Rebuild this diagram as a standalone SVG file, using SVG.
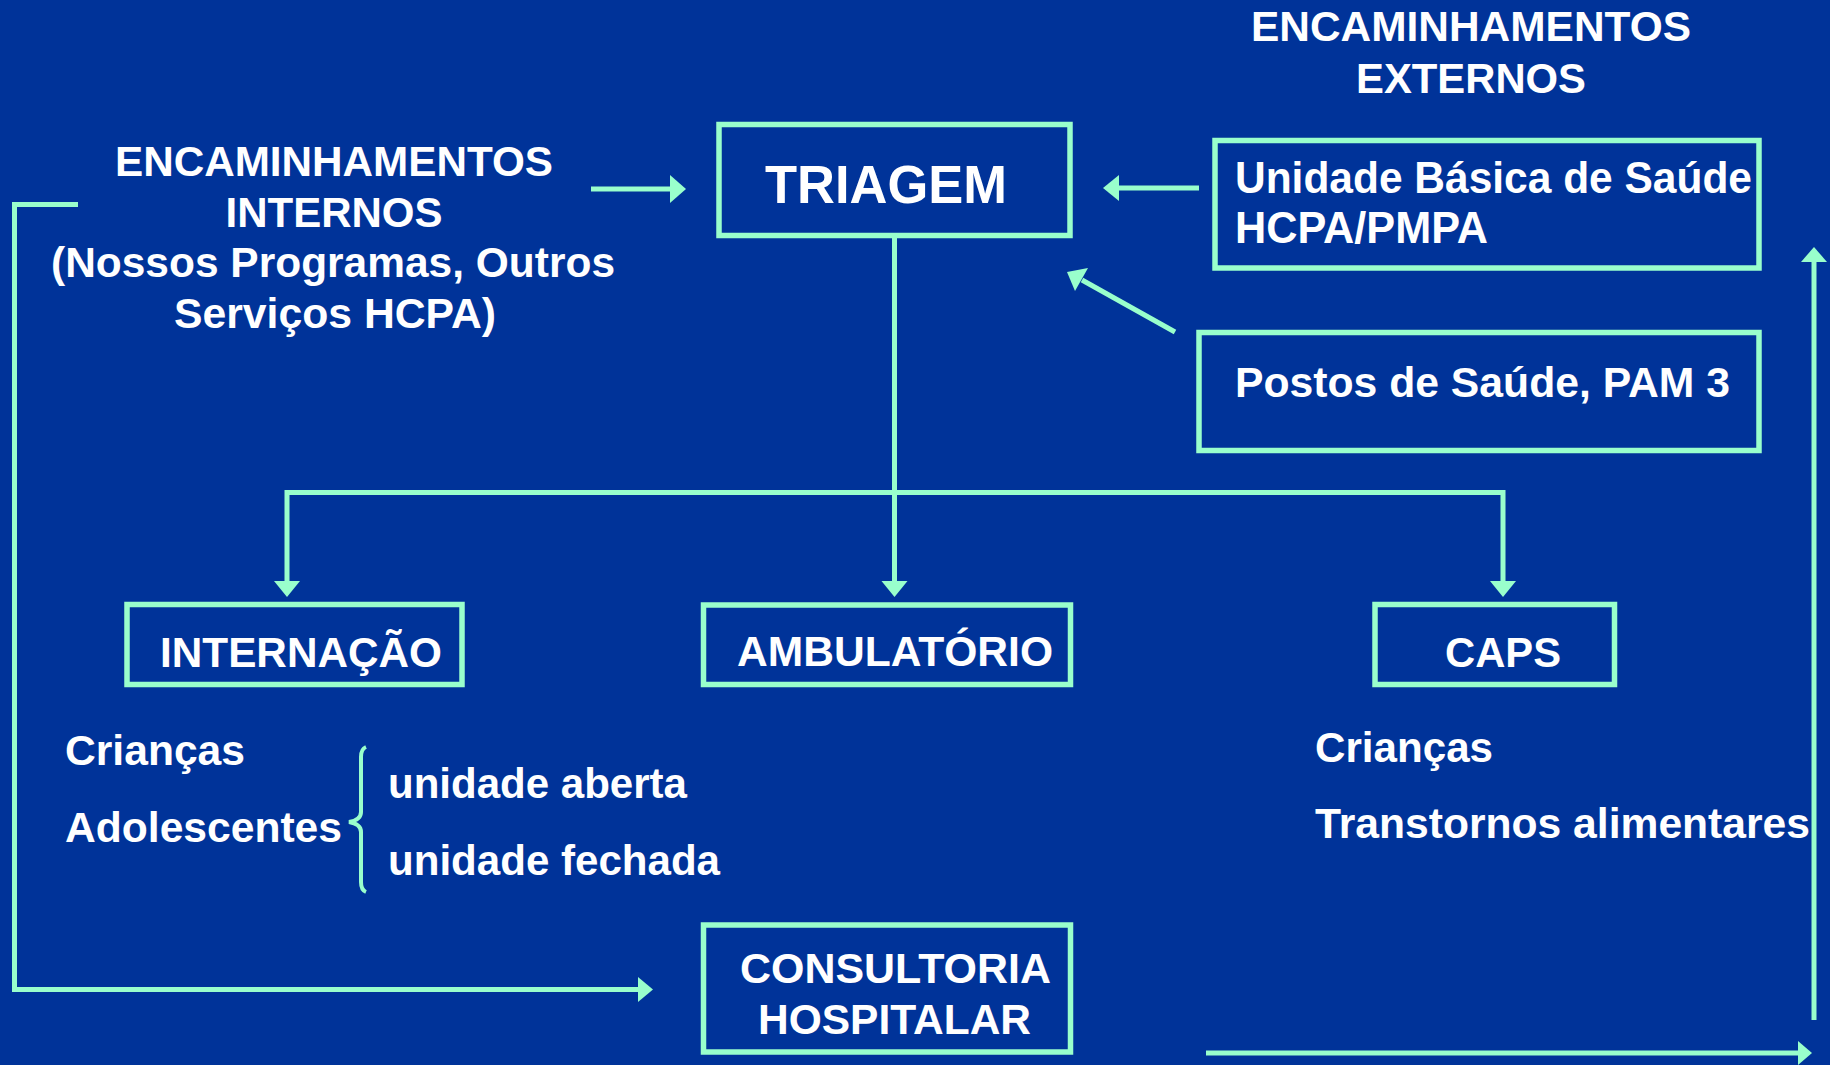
<svg xmlns="http://www.w3.org/2000/svg" width="1830" height="1065" viewBox="0 0 1830 1065">
<style>
.box{fill:none;stroke:#99FFCC;stroke-width:5.5}
.ln{fill:none;stroke:#99FFCC;stroke-width:5;stroke-linecap:butt;stroke-linejoin:miter}
.hd{fill:#99FFCC;stroke:none}
.t{font-family:"Liberation Sans",Arial,Helvetica,sans-serif;font-weight:bold;fill:#FFFFFF}
.n{font-size:42px}
</style>
<rect x="0" y="0" width="1830" height="1065" fill="#003399"/>

<g id="connectors">
  <line class="ln" x1="591" y1="189" x2="672" y2="189"/>
  <polygon class="hd" points="670,175 686,189 670,203"/>
  <line class="ln" x1="1199" y1="188" x2="1117" y2="188"/>
  <polygon class="hd" points="1119,175 1103,188 1119,201"/>
  <line class="ln" x1="1175" y1="332" x2="1082" y2="280"/>
  <polygon class="hd" points="1067,272 1088,268 1075,291"/>
  <line class="ln" x1="894.5" y1="238" x2="894.5" y2="584"/>
  <polygon class="hd" points="881.5,581 894.5,597 907.5,581"/>
  <polyline class="ln" points="287,584 287,492.5 1503,492.5 1503,584"/>
  <polygon class="hd" points="274,581 287,597 300,581"/>
  <polygon class="hd" points="1490,581 1503,597 1516,581"/>
  <polyline class="ln" points="78,204.5 14.5,204.5 14.5,989.5 640,989.5"/>
  <polygon class="hd" points="638,977 653,989.5 638,1002"/>
  <line class="ln" x1="1814" y1="1020" x2="1814" y2="260"/>
  <polygon class="hd" points="1801,262 1814,247 1827,262"/>
  <line class="ln" x1="1206" y1="1053" x2="1800" y2="1053"/>
  <polygon class="hd" points="1798,1041 1812,1053 1798,1065"/>
</g>

<g id="internos">
  <text class="t n" x="334" y="176" text-anchor="middle" textLength="438" lengthAdjust="spacingAndGlyphs">ENCAMINHAMENTOS</text>
  <text class="t n" x="334" y="227" text-anchor="middle" textLength="217" lengthAdjust="spacingAndGlyphs">INTERNOS</text>
  <text class="t n" x="333" y="277" text-anchor="middle" textLength="564" lengthAdjust="spacingAndGlyphs">(Nossos Programas, Outros</text>
  <text class="t n" x="335" y="328" text-anchor="middle" textLength="322" lengthAdjust="spacingAndGlyphs">Serviços HCPA)</text>
</g>

<g id="externos">
  <text class="t n" x="1471" y="41" text-anchor="middle" textLength="440" lengthAdjust="spacingAndGlyphs">ENCAMINHAMENTOS</text>
  <text class="t n" x="1471" y="93" text-anchor="middle" textLength="230" lengthAdjust="spacingAndGlyphs">EXTERNOS</text>
</g>

<g id="triagem">
  <rect class="box" x="719" y="124.5" width="351" height="111"/>
  <text class="t" x="765" y="203" font-size="54" textLength="242" lengthAdjust="spacingAndGlyphs">TRIAGEM</text>
</g>

<g id="unidade-basica">
  <rect class="box" x="1215" y="140.5" width="544" height="127.5"/>
  <text class="t" x="1235" y="193" font-size="44" textLength="517" lengthAdjust="spacingAndGlyphs">Unidade Básica de Saúde</text>
  <text class="t" x="1235" y="243" font-size="44" textLength="253" lengthAdjust="spacingAndGlyphs">HCPA/PMPA</text>
</g>

<g id="postos">
  <rect class="box" x="1199" y="332.5" width="560" height="118"/>
  <text class="t" x="1235" y="397" font-size="43" textLength="495" lengthAdjust="spacingAndGlyphs">Postos de Saúde, PAM 3</text>
</g>

<g id="internacao">
  <rect class="box" x="127" y="604.5" width="335" height="80"/>
  <text class="t n" x="160" y="667" textLength="282" lengthAdjust="spacingAndGlyphs">INTERNAÇÃO</text>
</g>

<g id="ambulatorio">
  <rect class="box" x="703.5" y="605" width="367" height="79.5"/>
  <text class="t n" x="737" y="666" textLength="316" lengthAdjust="spacingAndGlyphs">AMBULATÓRIO</text>
</g>

<g id="caps">
  <rect class="box" x="1375" y="604.5" width="239.5" height="80"/>
  <text class="t" x="1445" y="667" font-size="43" textLength="116" lengthAdjust="spacingAndGlyphs">CAPS</text>
</g>

<g id="internacao-detalhes">
  <text class="t n" x="65" y="765" textLength="180" lengthAdjust="spacingAndGlyphs">Crianças</text>
  <text class="t n" x="65" y="842" textLength="277" lengthAdjust="spacingAndGlyphs">Adolescentes</text>
  <path d="M366,747 Q361,749 361,757 L361,812 Q361,820 349,822 Q361,824 361,832 L361,882 Q361,890 366,892" fill="none" stroke="#99FFCC" stroke-width="4"/>
  <text class="t n" x="388" y="798" textLength="299" lengthAdjust="spacingAndGlyphs">unidade aberta</text>
  <text class="t n" x="388" y="875" textLength="332" lengthAdjust="spacingAndGlyphs">unidade fechada</text>
</g>

<g id="caps-detalhes">
  <text class="t n" x="1315" y="762" textLength="178" lengthAdjust="spacingAndGlyphs">Crianças</text>
  <text class="t n" x="1315" y="838" textLength="495" lengthAdjust="spacingAndGlyphs">Transtornos alimentares</text>
</g>

<g id="consultoria">
  <rect class="box" x="703.5" y="925" width="367" height="127"/>
  <text class="t n" x="740" y="983" textLength="311" lengthAdjust="spacingAndGlyphs">CONSULTORIA</text>
  <text class="t n" x="758" y="1034" textLength="273" lengthAdjust="spacingAndGlyphs">HOSPITALAR</text>
</g>
</svg>
